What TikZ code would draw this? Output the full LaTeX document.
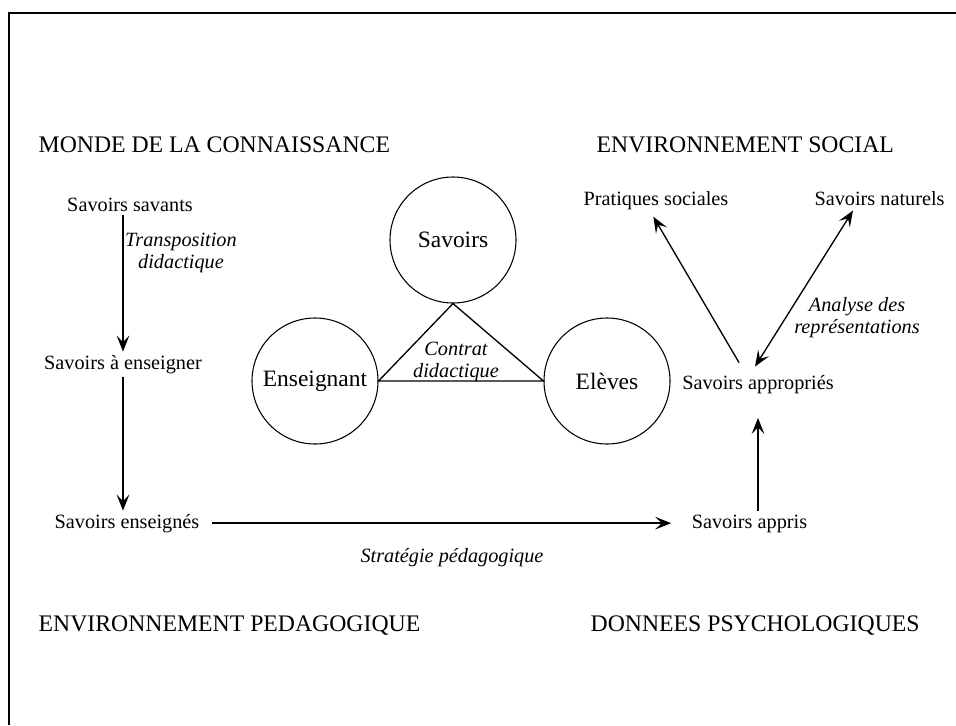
\documentclass[tikz,border=0pt]{standalone}
\usepackage{fontspec}
\setmainfont{Liberation Serif}
\usetikzlibrary{arrows.meta, positioning}

\tikzset{
  titre/.style={font=\fontsize{17.8}{21}\selectfont, anchor=base west, inner sep=0pt},
  savoir/.style={font=\fontsize{15.2}{16.5}\selectfont, anchor=base, inner sep=2pt},
  note/.style={font=\fontsize{15.2}{16.5}\selectfont\itshape, align=center, inner sep=0pt},
  pole/.style={circle, draw, line width=0.8pt, minimum size=94.5pt, inner sep=0pt,
    font=\fontsize{17.6}{21}\selectfont},
}

\begin{document}
\begin{tikzpicture}[x=0.75pt, y=-0.75pt, on grid, line width=1pt,
      >={Stealth[length=12pt,width=9.5pt,inset=5pt]}]
      \useasboundingbox (0,0) rectangle (956,725);
      % cadre
      \draw[line width=1.2pt] (9,725) -- (9,13) -- (956,13);

      % les quatre mondes
      \node[titre] (monde) at (38,152) {MONDE DE LA CONNAISSANCE};
      \node[titre] (social) at (596,152) {ENVIRONNEMENT SOCIAL};
      \node[titre] (peda) at (38,631) {ENVIRONNEMENT PEDAGOGIQUE};
      \node[titre] (psy) at (590,631) {DONNEES PSYCHOLOGIQUES};

      % triangle didactique
      \node[pole] (sav) at (453,240) {Savoirs};
      \node[pole] (ens) [below left=105.75pt and 103.5pt of sav] {Enseignant};
      \node[pole] (ele) [below right=105.75pt and 115.5pt of sav] {Elèves};
      \draw (sav.south) -- (ens.east) -- (ele.west) -- cycle;
      \node[note] (contrat) at (456,362) {Contrat\\didactique};

      % les savoirs
      \node[savoir] (savants) at (130,211) {Savoirs savants};
      \node[savoir] (aens) at (123,369) {Savoirs à enseigner};
      \node[savoir] (enseig) at (127,528) {Savoirs enseignés};
      \node[savoir] (appris) at (749.5,528) {Savoirs appris};
      \node[savoir] (approp) at (758,389) {Savoirs appropriés};
      \node[savoir] (prat) at (656,205) {Pratiques sociales};
      \node[savoir] (nat) at (879.5,205) {Savoirs naturels};

      \draw[->] (savants.south -| aens.north) -- (aens.north);
      \node[note] (transpo) at (181,253) {Transposition\\didactique};
      \draw[->] (aens.south) -- (aens.south |- enseig.north);
      \draw[->, shorten <=7pt, shorten >=13pt] (enseig.east) -- (enseig.east -| appris.west);
      \node[note, anchor=base] (strat) at (452,562) {Stratégie pédagogique};
      \draw[->, shorten >=16pt] (appris.north -| approp) -- (approp.south);
      \draw[->] ([xshift=-14.25pt, yshift=6.75pt]approp.north) -- ([xshift=-2pt, yshift=-3pt]prat.south);
      \draw[<->] ([xshift=-2.25pt, yshift=3.75pt]approp.north) -- ([xshift=-19.9pt, yshift=-1.5pt]nat.south);
      \node[note] (analyse) at (857,318) {Analyse des\\représentations};
\end{tikzpicture}
\end{document}
